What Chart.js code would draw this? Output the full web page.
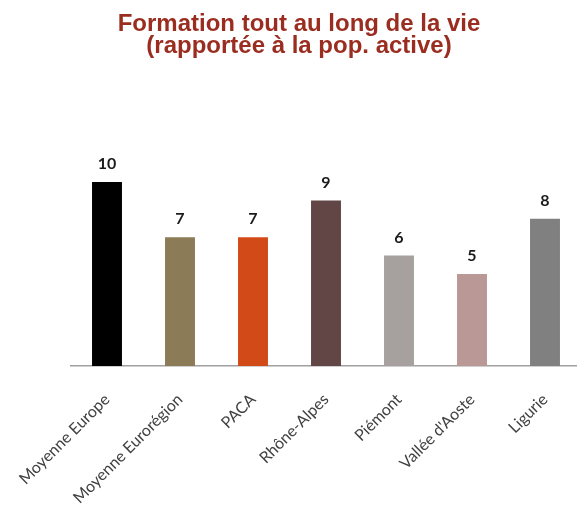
<!DOCTYPE html>
<html>
<head>
<meta charset="utf-8">
<script src="https://cdn.jsdelivr.net/npm/chart.js@4"></script>
<style>
html,body{margin:0;padding:0;overflow:hidden;background:#fff;}
canvas{display:block;}
</style>
</head>
<body>
<canvas id="c" width="598" height="506"></canvas>
<script>
const categories = ["Moyenne Europe","Moyenne Eurorégion","PACA","Rhône-Alpes","Piémont","Vallée d'Aoste","Ligurie"];
const values = [10,7,7,9,6,5,8];
const barColors = ["#000000","#8B7B57","#D14A18","#624646","#A6A09E","#B99896","#808080"];
const titleLines = ["Formation tout au long de la vie","(rapportée à la pop. active)"];

const valueLabels = {
  id:'valueLabels',
  afterDatasetsDraw(chart){
    const ctx = chart.ctx;
    const meta = chart.getDatasetMeta(0);
    ctx.save();
    ctx.font = 'bold 16px Lato';
    ctx.fillStyle = '#1a1a1a';
    ctx.textAlign = 'center';
    ctx.textBaseline = 'middle';
    meta.data.forEach((bar,i)=>{
      ctx.fillText(String(values[i]), bar.x, bar.y - 18);
    });
    ctx.restore();
  }
};

const titlePlugin = {
  id:'titlePlugin',
  afterDraw(chart){
    const ctx = chart.ctx;
    ctx.save();
    ctx.font = 'bold 24px "Liberation Sans"';
    ctx.fillStyle = '#9B2D20';
    ctx.textAlign = 'center';
    ctx.textBaseline = 'alphabetic';
    titleLines.forEach((t,i)=>{
      ctx.fillText(t, chart.width/2, 31 + i*21.5);
    });
    ctx.restore();
  }
};

new Chart(document.getElementById('c'), {
  type:'bar',
  data:{
    labels:categories,
    datasets:[{data:values, backgroundColor:barColors, barPercentage:0.41, categoryPercentage:1}]
  },
  options:{
    responsive:false,
    animation:false,
    layout:{padding:{left:70.5,right:16.5,top:145.2,bottom:0}},
    plugins:{
      legend:{display:false},
      tooltip:{enabled:false},
      title:{display:false}
    },
    scales:{
      y:{display:false,min:0,max:12},
      x:{grid:{display:false},border:{display:true,color:'#A0A0A0',width:1.5},
        afterFit(s){s.height=140;},
        ticks:{autoSkip:false,minRotation:45,maxRotation:45,padding:16,color:'#404040',
          font:{family:'Lato',size:16}}}
    }
  },
  plugins:[valueLabels,titlePlugin]
});
</script>
</body>
</html>
